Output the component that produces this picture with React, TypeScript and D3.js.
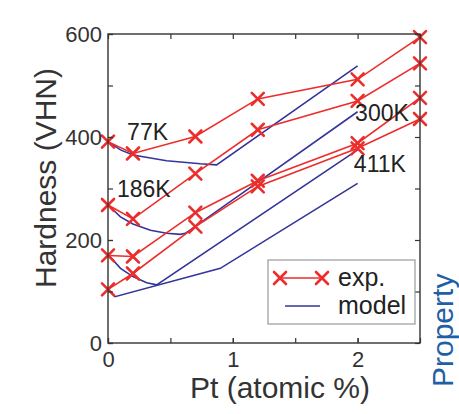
import React, { useEffect, useRef } from 'react';
import * as d3 from 'd3';

const settings = {
  width: 459,
  height: 414,
  plot: { left: 108, right: 420, top: 34, bottom: 343 }
};

// measured composition (atomic % Pt) of the experimental points
const expX = [0, 0.2, 0.7, 1.2, 2, 2.5];
const exp77K = [391, 368, 401, 474, 512, 594];
const exp186K = [268, 241, 329, 414, 470, 543];
const exp300K = [170, 168, 253, 315, 388, 476];
const exp411K = [104, 135, 226, 304, 378, 435];

// model curves
const model77X = [0, 0.1, 0.2, 0.47, 0.74, 0.87, 2.0];
const model77Y = [391, 375, 365, 354, 348, 346, 538];
const model186X = [0, 0.1, 0.2, 0.34, 0.47, 0.58, 0.62, 2.0];
const model186Y = [268, 245, 231, 219, 213, 211, 213, 449];
const model300X = [0, 0.1, 0.2, 0.31, 0.39, 2.0];
const model300Y = [172, 145, 129, 117, 113, 375];
const model411X = [0, 0.056, 0.9, 2.0];
const model411Y = [104, 90, 145, 310];

// temperature labels, anchored at their text baseline (data units)
const tempLabels = ['77K', '186K', '300K', '411K'];
const labelAt = [[0.153, 394], [0.072, 283], [1.98, 431], [1.97, 332]];

const xMajor = [0, 1, 2];
const xAll = [0, 0.5, 1, 1.5, 2, 2.5];
const yMajor = [0, 200, 400, 600];
const yAll = [0, 100, 200, 300, 400, 500, 600];

const RED = '#ec2d2b';
const BLUE = '#34349a';
const INK = '#333';
const FONT = '"Liberation Sans", Arial, Helvetica, sans-serif';

const zip = (xs: number[], ys: number[]) => xs.map((x, i) => [x, ys[i]] as [number, number]);

function Axis({ axis, translate }: { axis: any; translate: string }) {
  const ref = useRef<SVGGElement>(null);
  useEffect(() => {
    const g = d3.select(ref.current);
    g.call(axis);
    g.select('.domain').remove();
    g.selectAll('line').attr('stroke', INK).attr('stroke-width', 1.2);
    g.selectAll('text').attr('fill', INK).style('font-family', FONT).style('font-size', '22px');
  }, [axis]);
  return <g ref={ref} transform={translate} />;
}

function Cross({ cx, cy }: { cx: number; cy: number }) {
  const s = 6;
  return (
    <g stroke={RED} strokeWidth={2.6} strokeLinecap="round">
      <line x1={cx - s} y1={cy - s} x2={cx + s} y2={cy + s} />
      <line x1={cx - s} y1={cy + s} x2={cx + s} y2={cy - s} />
    </g>
  );
}

export default function App() {
  const { plot } = settings;
  const x = d3.scaleLinear().domain([0, 2.5]).range([plot.left, plot.right]);
  const y = d3.scaleLinear().domain([0, 600]).range([plot.bottom, plot.top]);
  const line = d3.line<[number, number]>().x(d => x(d[0])).y(d => y(d[1]));

  const expSeries = [exp77K, exp186K, exp300K, exp411K].map(ys => zip(expX, ys));
  const modelSeries = [
    zip(model77X, model77Y),
    zip(model186X, model186Y),
    zip(model300X, model300Y),
    zip(model411X, model411Y)
  ];

  const xLeft = d3.axisBottom(x).tickValues(xMajor).tickSize(-5).tickPadding(8).tickFormat(d3.format('d'));
  const xMinor = d3.axisBottom(x).tickValues(xAll).tickSize(-5).tickFormat(() => '');
  const xTop = d3.axisTop(x).tickValues(xAll).tickSize(-5).tickFormat(() => '');
  const yLeft = d3.axisLeft(y).tickValues(yMajor).tickSize(-5).tickPadding(6).tickFormat(d3.format('d'));
  const yMinor = d3.axisLeft(y).tickValues(yAll).tickSize(-5).tickFormat(() => '');
  const yRight = d3.axisRight(y).tickValues(yAll).tickSize(-5).tickFormat(() => '');

  const legendX = 268, legendY = 260;

  return (
    <svg width={settings.width} height={settings.height}
         style={{ position: 'absolute', left: 0, top: 0, display: 'block', background: '#fff' }}
         fontFamily={FONT}>
      {modelSeries.map((d, i) => (
        <path key={'m' + i} d={line(d) || ''} fill="none" stroke={BLUE} strokeWidth={1.6} />
      ))}
      {expSeries.map((d, i) => (
        <g key={'e' + i}>
          <path d={line(d) || ''} fill="none" stroke={RED} strokeWidth={1.6} />
          {d.map((p, j) => <Cross key={j} cx={x(p[0])} cy={y(p[1])} />)}
        </g>
      ))}

      {/* axes box with inward ticks, matlab style */}
      <rect x={plot.left} y={plot.top} width={plot.right - plot.left} height={plot.bottom - plot.top}
            fill="none" stroke={INK} strokeWidth={1.4} />
      <Axis axis={xMinor} translate={`translate(0,${plot.bottom})`} />
      <Axis axis={xLeft} translate={`translate(0,${plot.bottom})`} />
      <Axis axis={xTop} translate={`translate(0,${plot.top})`} />
      <Axis axis={yMinor} translate={`translate(${plot.left},0)`} />
      <Axis axis={yLeft} translate={`translate(${plot.left},0)`} />
      <Axis axis={yRight} translate={`translate(${plot.right},0)`} />

      {tempLabels.map((t, i) => (
        <text key={t} x={x(labelAt[i][0])} y={y(labelAt[i][1])} fontSize={23} fill="#222">{t}</text>
      ))}

      {/* legend */}
      <rect x={legendX} y={legendY} width={147} height={64} fill="#fff" stroke="#999" strokeWidth={1.2} />
      <line x1={legendX + 12} x2={legendX + 54} y1={legendY + 18} y2={legendY + 18} stroke={RED} strokeWidth={1.6} />
      <Cross cx={legendX + 12} cy={legendY + 18} />
      <Cross cx={legendX + 54} cy={legendY + 18} />
      <text x={legendX + 70} y={legendY + 26} fontSize={25} fill="#222">exp.</text>
      <line x1={legendX + 17} x2={legendX + 52} y1={legendY + 46} y2={legendY + 46} stroke={BLUE} strokeWidth={1.6} />
      <text x={legendX + 70} y={legendY + 54} fontSize={25} fill="#222">model</text>

      <text x={280} y={398} fontSize={30} fill={INK} textAnchor="middle">Pt (atomic %)</text>
      <text transform="translate(56,178) rotate(-90)" fontSize={30} fill={INK} textAnchor="middle">Hardness (VHN)</text>
      <text transform="translate(453,387) rotate(-90)" fontSize={30} fill="#1f5fa6">Property</text>
    </svg>
  );
}
